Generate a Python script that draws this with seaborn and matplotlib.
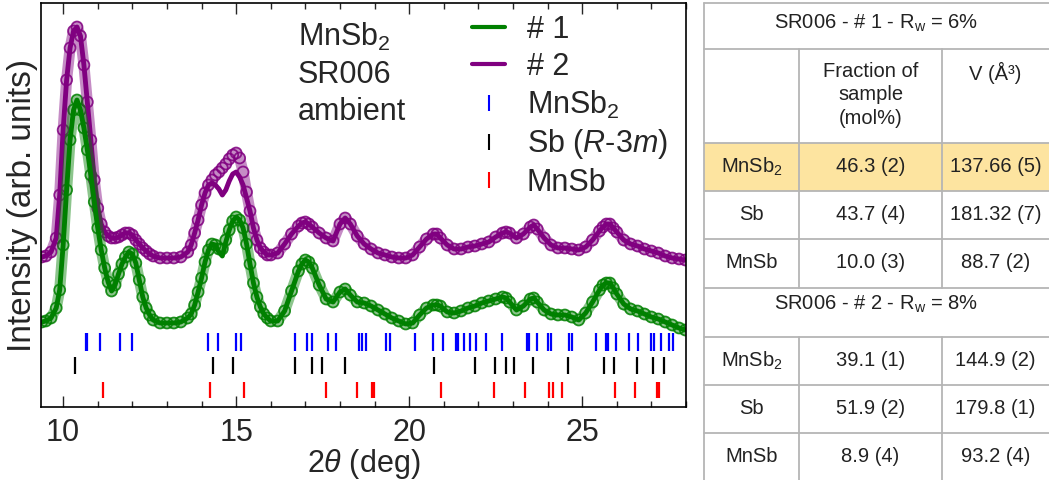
import pandas as pd
import seaborn as sns
import matplotlib.pyplot as plt
from matplotlib.lines import Line2D
from matplotlib.patches import Rectangle
from matplotlib.ticker import MultipleLocator

two_theta = [9.38, 9.5, 9.65, 9.8, 9.9, 10.0, 10.1, 10.2, 10.3, 10.4,
             10.5, 10.6, 10.7, 10.8, 10.9, 11.0, 11.1, 11.2, 11.3, 11.4,
             11.5, 11.6, 11.7, 11.8, 11.9, 12.0, 12.1, 12.2, 12.3, 12.4,
             12.5, 12.6, 12.8, 13.0, 13.2, 13.4, 13.6, 13.7, 13.8, 13.9,
             14.0, 14.1, 14.2, 14.3, 14.4, 14.5, 14.6, 14.7, 14.8, 14.9,
             15.0, 15.1, 15.2, 15.3, 15.4, 15.5, 15.6, 15.7, 15.8, 15.9,
             16.0, 16.2, 16.4, 16.6, 16.8, 16.9, 17.0, 17.1, 17.2, 17.4,
             17.6, 17.8, 18.0, 18.15, 18.3, 18.5, 18.7, 18.9, 19.1, 19.3,
             19.5, 19.7, 19.9, 20.1, 20.3, 20.5, 20.7, 20.8, 20.9, 21.1,
             21.3, 21.5, 21.7, 21.9, 22.1, 22.3, 22.5, 22.7, 22.8, 22.9,
             23.1, 23.3, 23.5, 23.6, 23.7, 23.9, 24.1, 24.3, 24.5, 24.7,
             24.9, 25.1, 25.3, 25.5, 25.6, 25.7, 25.8, 25.9, 26.0, 26.2,
             26.4, 26.6, 26.8, 27.0, 27.2, 27.4, 27.6, 27.8, 27.98]

obs_1 = [83, 84, 87, 97, 115, 160, 215, 265, 295, 305,
         295, 277, 255, 230, 203, 177, 155, 137, 123, 114,
         120, 131, 141, 148, 153, 151, 142, 125, 108, 97,
         90, 85, 82, 82, 82, 83, 87, 91, 100, 113,
         127, 143, 155, 161, 160, 156, 156, 165, 175, 184,
         188, 185, 177, 161, 141, 122, 108, 98, 91, 87,
         84, 84, 94, 114, 134, 141, 145, 143, 137, 120,
         106, 103, 113, 116, 110, 103, 102, 99, 95, 91,
         87, 84, 81, 82, 90, 97, 100, 100, 99, 93,
         92, 94, 97, 99, 102, 104, 106, 108, 107, 103,
         95, 99, 106, 107, 103, 95, 91, 90, 90, 88,
         85, 92, 103, 115, 120, 122, 122, 117, 111, 101,
         96, 94, 91, 88, 86, 83, 80, 77, 75]

obs_2 = [148, 149, 153, 167, 210, 275, 325, 357, 374, 378,
         369, 340, 303, 265, 225, 197, 181, 173, 169, 167,
         167, 168, 170, 172, 172, 170, 165, 161, 157, 154,
         151, 149, 147, 147, 147, 148, 153, 160, 172, 185,
         200, 212, 220, 225, 230, 233, 237, 241, 246, 250,
         252, 247, 233, 213, 194, 177, 165, 157, 153, 150,
         150, 152, 161, 171, 179, 182, 183, 181, 178, 172,
         167, 164, 181, 187, 181, 169, 161, 156, 152, 150,
         148, 147, 147, 150, 158, 166, 171, 171, 167, 160,
         156, 156, 158, 159, 161, 163, 168, 172, 173, 172,
         167, 171, 178, 180, 176, 167, 160, 157, 157, 156,
         155, 158, 165, 174, 178, 181, 181, 177, 173, 165,
         161, 159, 156, 154, 152, 149, 147, 146, 145]

# where the fitted curves leave the observed points (around the 14-15 deg doublet)
dip_theta = [14.3, 14.4, 14.5, 14.6, 14.7, 14.8, 14.9, 15.0, 15.1, 15.2, 15.3]
calc_1_dip = [161, 160, 153, 149, 163, 175, 184, 188, 185, 177, 161]
calc_2_dip = [222, 220, 216, 210, 215, 224, 231, 233, 228, 220, 207]

# reflection positions (deg)
refl_mnsb2 = [10.65, 10.70, 11.06, 11.64, 12.0, 14.18, 14.48, 15.0, 15.15,
              16.71, 17.04, 17.19, 17.64, 17.88, 18.56, 18.65, 18.75, 19.34,
              19.46, 20.16, 20.69, 20.98, 21.34, 21.42, 21.57, 21.77, 21.93,
              22.21, 22.69, 23.41, 23.47, 23.70, 24.02, 24.11, 24.61, 24.70,
              25.40, 25.69, 25.76, 25.97, 26.34, 26.60, 27.0, 27.08, 27.29,
              27.51, 27.63]
refl_sb = [10.33, 14.32, 14.90, 16.71, 17.20, 17.48, 18.15, 20.71, 21.89,
           22.47, 22.81, 23.02, 23.57, 24.58, 25.62, 25.93, 26.57, 27.05, 27.37]
refl_mnsb = [11.16, 14.23, 15.24, 17.60, 18.48, 18.93, 18.98, 20.91, 22.45,
             23.36, 24.05, 24.15, 24.41, 25.96, 26.53, 27.16, 27.23]

# refinement results
phase_labels = ["MnSb$_2$", "Sb", "MnSb"]
table_titles = ["SR006 - # 1 - R$_\\mathrm{w}$ = 6%", "SR006 - # 2 - R$_\\mathrm{w}$ = 8%"]
col_headers = ["Fraction of\nsample\n(mol%)", "V (Å³)"]
frac_1 = ["46.3 (2)", "43.7 (4)", "10.0 (3)"]
vol_1 = ["137.66 (5)", "181.32 (7)", "88.7 (2)"]
frac_2 = ["39.1 (1)", "51.9 (2)", "8.9 (4)"]
vol_2 = ["144.9 (2)", "179.8 (1)", "93.2 (4)"]

sns.set_style("ticks")
plt.rcParams['font.family'] = ['Liberation Sans', 'DejaVu Sans']
plt.rcParams['mathtext.fontset'] = 'custom'
plt.rcParams['mathtext.rm'] = 'Liberation Sans'
plt.rcParams['mathtext.it'] = 'Liberation Sans:italic'

df = pd.DataFrame({'two_theta': two_theta, 'obs_1': obs_1, 'obs_2': obs_2})
df['calc_1'] = df['obs_1']
df['calc_2'] = df['obs_2']
for t, c1, c2 in zip(dip_theta, calc_1_dip, calc_2_dip):
    df.loc[df['two_theta'] == t, 'calc_1'] = c1
    df.loc[df['two_theta'] == t, 'calc_2'] = c2

fig = plt.figure(figsize=(10.49, 4.8), dpi=100)
ax = fig.add_axes([41 / 1049, 1 - 407 / 480, 645 / 1049, 404 / 480])

green, purple = '#008000', '#800080'
for obs, calc, color in [('obs_2', 'calc_2', purple), ('obs_1', 'calc_1', green)]:
    # dense observed points read as a broad band, circles on top
    sns.lineplot(data=df, x='two_theta', y=obs, ax=ax, color=color, lw=8,
                 alpha=0.45, legend=False)
    sns.scatterplot(data=df, x='two_theta', y=obs, ax=ax, marker='o', s=62,
                    facecolors='none', edgecolor=color, linewidth=1.3, alpha=0.85,
                    legend=False)
    sns.lineplot(data=df, x='two_theta', y=calc, ax=ax, color=color, lw=3.5,
                 legend=False)

ax.vlines(refl_mnsb2, 54, 72, color='#0000ff', lw=1.6)
ax.vlines(refl_sb, 31, 48, color='black', lw=1.6)
ax.vlines(refl_mnsb, 7, 23, color='#ff0000', lw=1.6)

ax.set_xlim(9.36, 28)
ax.set_ylim(-2, 402)
ax.set_xticks([10, 15, 20, 25])
ax.xaxis.set_minor_locator(MultipleLocator(1))
ax.set_yticks([])
ax.tick_params(axis='x', which='both', direction='in', top=True, labelsize=22, pad=8)
ax.tick_params(axis='x', which='major', length=8, width=1)
ax.tick_params(axis='x', which='minor', length=4, width=1)
for sp in ax.spines.values():
    sp.set_linewidth(1.2)
    sp.set_color('black')
ax.set_xlabel('2$\\it{\\theta}$ (deg)', fontsize=22, labelpad=-1)
ax.set_ylabel('Intensity (arb. units)', fontsize=24, labelpad=2)

ax.text(0.398, 0.955, 'MnSb$_2$\nSR006\nambient', transform=ax.transAxes,
        fontsize=22, va='top', ha='left', linespacing=1.3)

handles = [Line2D([], [], color=green, lw=3),
           Line2D([], [], color=purple, lw=3),
           Line2D([], [], color='#0000ff', marker='|', ls='none', ms=11, mew=1.5),
           Line2D([], [], color='black', marker='|', ls='none', ms=11, mew=1.5),
           Line2D([], [], color='#ff0000', marker='|', ls='none', ms=11, mew=1.5)]
labels = ['# 1', '# 2', 'MnSb$_2$', 'Sb ($R$-3$m$)', 'MnSb']
ax.legend(handles, labels, loc='upper left', bbox_to_anchor=(0.668, 0.97),
          frameon=False, fontsize=22, handlelength=1.1, handletextpad=0.7,
          labelspacing=0.22, borderpad=0, borderaxespad=0)

# results table, laid out in figure pixels
tab = fig.add_axes([0, 0, 1, 1], zorder=-1)
tab.set_xlim(0, 1049)
tab.set_ylim(480, 0)
tab.axis('off')
line_kw = dict(color='#b5b5b5', lw=1.3)
x0, x1, x2, x3 = 704, 799, 942, 1049
row_edges = [3, 49, 143, 191, 239, 288, 337, 385, 433]
tab.add_patch(Rectangle((x0, 143), x3 - x0, 48, color='#fde4a0', lw=0))
for y in row_edges:
    tab.plot([x0, x3], [y, y], **line_kw)
tab.plot([x0, x0], [3, 480], **line_kw)
for x in (x1, x2):
    tab.plot([x, x], [49, 288], **line_kw)
    tab.plot([x, x], [337, 480], **line_kw)

tcol = '#222222'
fs = 14.5
cx = [(x0 + x1) / 2, (x1 + x2) / 2, (x2 + x3) / 2]
tab.text((x0 + x3) / 2, 23, table_titles[0], ha='center', va='center', fontsize=fs, color=tcol)
tab.text((x0 + x3) / 2, 304, table_titles[1], ha='center', va='center', fontsize=fs, color=tcol)
tab.text(cx[1], 62, col_headers[0], ha='center', va='top', fontsize=fs, color=tcol,
         linespacing=1.3)
tab.text(cx[2], 62, col_headers[1], ha='center', va='top', fontsize=fs, color=tcol)

for block, (fr, vo) in enumerate([(frac_1, vol_1), (frac_2, vol_2)]):
    top = 143 if block == 0 else 337
    for i, (ph, f, v) in enumerate(zip(phase_labels, fr, vo)):
        yc = top + 48 * i + 24
        tab.text(cx[0], yc, ph, ha='center', va='center', fontsize=fs, color=tcol)
        tab.text(cx[1], yc, f, ha='center', va='center', fontsize=fs, color=tcol)
        tab.text(cx[2], yc, v, ha='center', va='center', fontsize=fs, color=tcol)

fig.savefig('out.png', dpi=100)
